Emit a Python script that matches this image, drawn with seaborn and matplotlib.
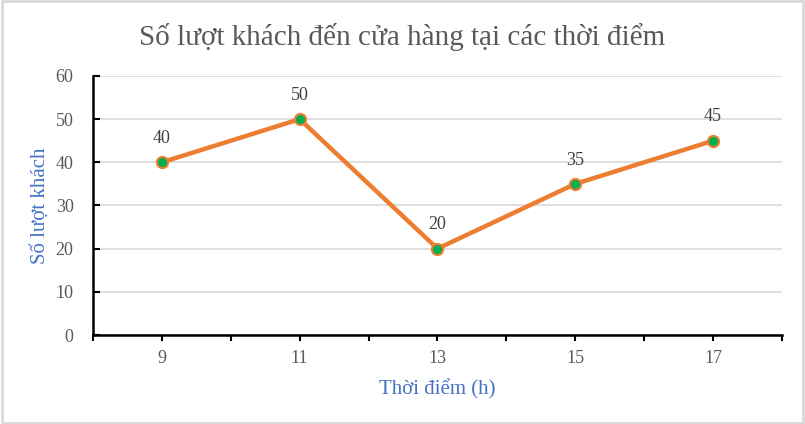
import matplotlib
matplotlib.use('Agg')
import matplotlib.pyplot as plt
import seaborn as sns
import pandas as pd
from matplotlib.patches import Rectangle

# ── Data ──────────────────────────────────────────────────────
hours = ['9', '11', '13', '15', '17']
visitors = [40, 50, 20, 35, 45]
y_ticks = [0, 10, 20, 30, 40, 50, 60]

# ── Colours ───────────────────────────────────────────────────
ORANGE = '#ED7D31'
GREEN = '#00B050'
BLUE = '#4472C4'
GREY = '#595959'
GRID = '#D9D9D9'

sns.set_theme(style='white')
plt.rcParams['font.family'] = ['Liberation Serif', 'DejaVu Serif']

df = pd.DataFrame({'hour': hours, 'visitors': visitors})

fig = plt.figure(figsize=(8.05, 4.24), dpi=100, facecolor='white')
ax = fig.add_axes([0.1155, 0.2099, 0.8559, 0.6109])

sns.lineplot(data=df, x='hour', y='visitors', color=ORANGE, linewidth=3.2,
             marker='o', markersize=8, markerfacecolor=GREEN,
             markeredgecolor=ORANGE, markeredgewidth=1.5, ax=ax, zorder=3)

for i, v in enumerate(visitors):
    ax.annotate(str(v), (i, v), xytext=(0, 11), textcoords='offset points',
                ha='center', va='bottom', fontsize=13, color='#404040')

ax.set_xlim(-0.5, len(hours) - 0.5)
ax.set_ylim(0, 60)
ax.set_yticks(y_ticks)
ax.set_xticks(range(len(hours)))
ax.set_xticks([i - 0.5 for i in range(len(hours) + 1)], minor=True)
ax.set_xticklabels(hours)

ax.grid(axis='y', color=GRID, linewidth=1.2)
ax.set_axisbelow(True)
for s in ['top', 'right']:
    ax.spines[s].set_visible(False)
for s in ['left', 'bottom']:
    ax.spines[s].set_color('black')
    ax.spines[s].set_linewidth(1.8)

ax.tick_params(axis='x', which='both', direction='out', length=4, width=1.5,
               color='black', labelsize=13, labelcolor=GREY, pad=7, bottom=True)
ax.tick_params(axis='y', direction='in', length=5, width=1.5, color='black',
               labelsize=13, labelcolor=GREY, pad=14, left=True)

ax.set_xlabel('Thời điểm (h)', color=BLUE, fontsize=15, labelpad=8.5)
ax.set_ylabel('Số lượt khách', color=BLUE, fontsize=15, labelpad=4)

fig.text(0.5, 0.913, 'Số lượt khách đến cửa hàng tại các thời điểm',
         ha='center', va='center', fontsize=21, color=GREY)

# light frame around the chart
fig.patches.append(Rectangle((0.002, 0.003), 0.996, 0.994, transform=fig.transFigure,
                             fill=False, edgecolor=GRID, linewidth=2))

fig.savefig('out.png', dpi=100, facecolor='white')
